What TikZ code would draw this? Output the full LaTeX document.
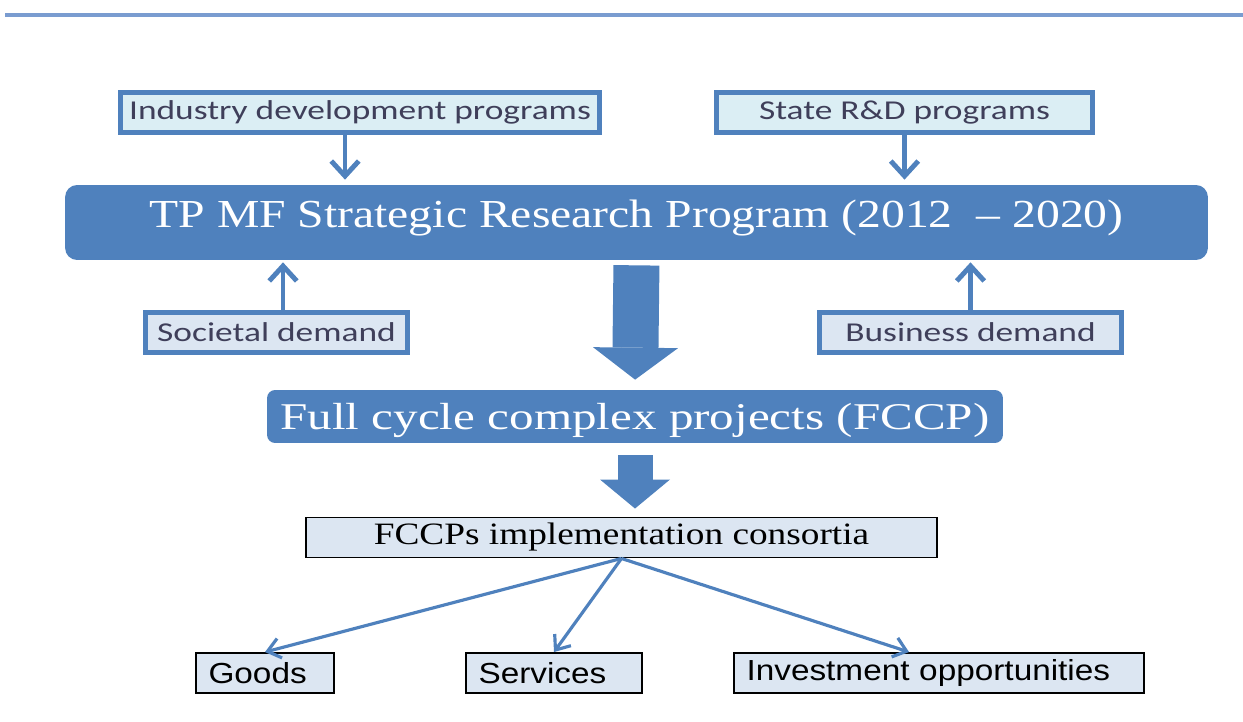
\documentclass[tikz,border=0pt]{standalone}
\usepackage{fontspec}
\usepackage{xcolor}
\usetikzlibrary{arrows.meta}
\newfontfamily\calibfont[FakeStretch=1.3]{Carlito}
\newfontfamily\serifbig[FakeStretch=1.2]{Liberation Serif}
\newfontfamily\serifwide[FakeStretch=1.3]{Liberation Serif}
\newfontfamily\arialfont[FakeStretch=1.15]{Liberation Sans}
\definecolor{tpblue}{HTML}{4F81BD}
\definecolor{lineblue}{HTML}{7A9CD0}
\definecolor{cyanbox}{HTML}{DBEEF4}
\definecolor{greybox}{HTML}{DCE6F2}
\definecolor{boxtext}{HTML}{3F3F5A}

\begin{document}
\begin{tikzpicture}[x=0.02cm, y=-0.02cm,
	progbox/.style={draw=tpblue, line width=2.6pt, fill=#1, text=boxtext, inner sep=0pt,
		minimum height=0.8cm, font=\calibfont\fontsize{15.5}{18}\selectfont},
	bluebox/.style={fill=tpblue, text=white, inner sep=0pt},
	outbox/.style={draw=black, line width=1.1pt, fill=greybox, inner ysep=0pt, inner xsep=0.25cm,
		minimum height=0.8cm, align=left, font=\arialfont\fontsize{16.5}{19}\selectfont},
	thinarrow/.style={draw=tpblue, line width=2.8pt, -{Straight Barb[length=0.3cm, width=0.55cm]}},
	fanarrow/.style={draw=tpblue, line width=1.8pt, -{Straight Barb[length=0.25cm, width=0.4cm]}},
	blockarrow/.style={draw=tpblue, line width=#1}
	]
	\useasboundingbox (0,0) rectangle (1243,722);
	\draw[lineblue, line width=2.8pt] (5,15) -- (1243,15);

	\node[progbox=cyanbox, minimum width=9.58cm] (industry) at (360,112.5) {Industry development programs};
	\node[progbox=cyanbox, minimum width=7.52cm] (state) at (904.5,112.5) {State R\&D programs};
	\node[bluebox, rounded corners=0.24cm, minimum width=22.86cm, text height=0.86cm, text depth=0.64cm,
		font=\serifbig\fontsize{22.6}{27}\selectfont] (tpmf) at (636.5,222.5) {TP MF Strategic Research Program (2012~~\textendash{} 2020)};
	\node[progbox=greybox, minimum width=5.24cm] (societal) at (276.5,332.5) {Societal demand};
	\node[progbox=greybox, minimum width=6.04cm] (business) at (970.5,332.5) {Business demand};
	\node[bluebox, rounded corners=0.16cm, minimum width=14.72cm, text height=0.8cm, text depth=0.26cm,
		font=\serifwide\fontsize{21.5}{26}\selectfont] (fccp) at (635,416.5) {Full cycle complex projects (FCCP)};
	\node[outbox, inner xsep=0pt, minimum width=12.62cm, font=\serifbig\fontsize{17.7}{20}\selectfont] (consortia) at (621.5,537.5) {FCCPs implementation consortia};
	\node[outbox, text width=2.26cm] (goods) at (265,673) {Goods};
	\node[outbox, text width=3.02cm] (services) at (554,673) {Services};
	\node[outbox, text width=7.7cm] (invest) at (939,673) {Investment opportunities};

	\draw[thinarrow, shorten >=0.1cm] ([xshift=-0.3cm]industry.south) -- ([xshift=-0.3cm]industry.south |- tpmf.north);
	\draw[thinarrow, shorten >=0.1cm] (state.south) -- (state.south |- tpmf.north);
	\draw[thinarrow, shorten >=0.04cm] ([xshift=0.13cm]societal.north) -- ([xshift=0.13cm]societal.north |- tpmf.south);
	\draw[thinarrow, shorten >=0.04cm] (business.north) -- (business.north |- tpmf.south);

	\draw[blockarrow=0.92cm, shorten <=0.1cm, shorten >=0.2cm,
		-{Triangle[length=0.64cm, width=1.7cm, line width=0pt]}] (tpmf.south) -- (fccp.north);
	\draw[blockarrow=0.7cm, shorten <=0.24cm, shorten >=0.16cm,
		-{Triangle[length=0.58cm, width=1.4cm, line width=0pt]}] (fccp.south) -- (fccp.south |- consortia.north);

	\draw[fanarrow] (consortia.south) -- (goods.north);
	\draw[fanarrow] (consortia.south) -- (services.north);
	\draw[fanarrow] (consortia.south) -- ([xshift=-0.6cm]invest.north);
\end{tikzpicture}
\end{document}
